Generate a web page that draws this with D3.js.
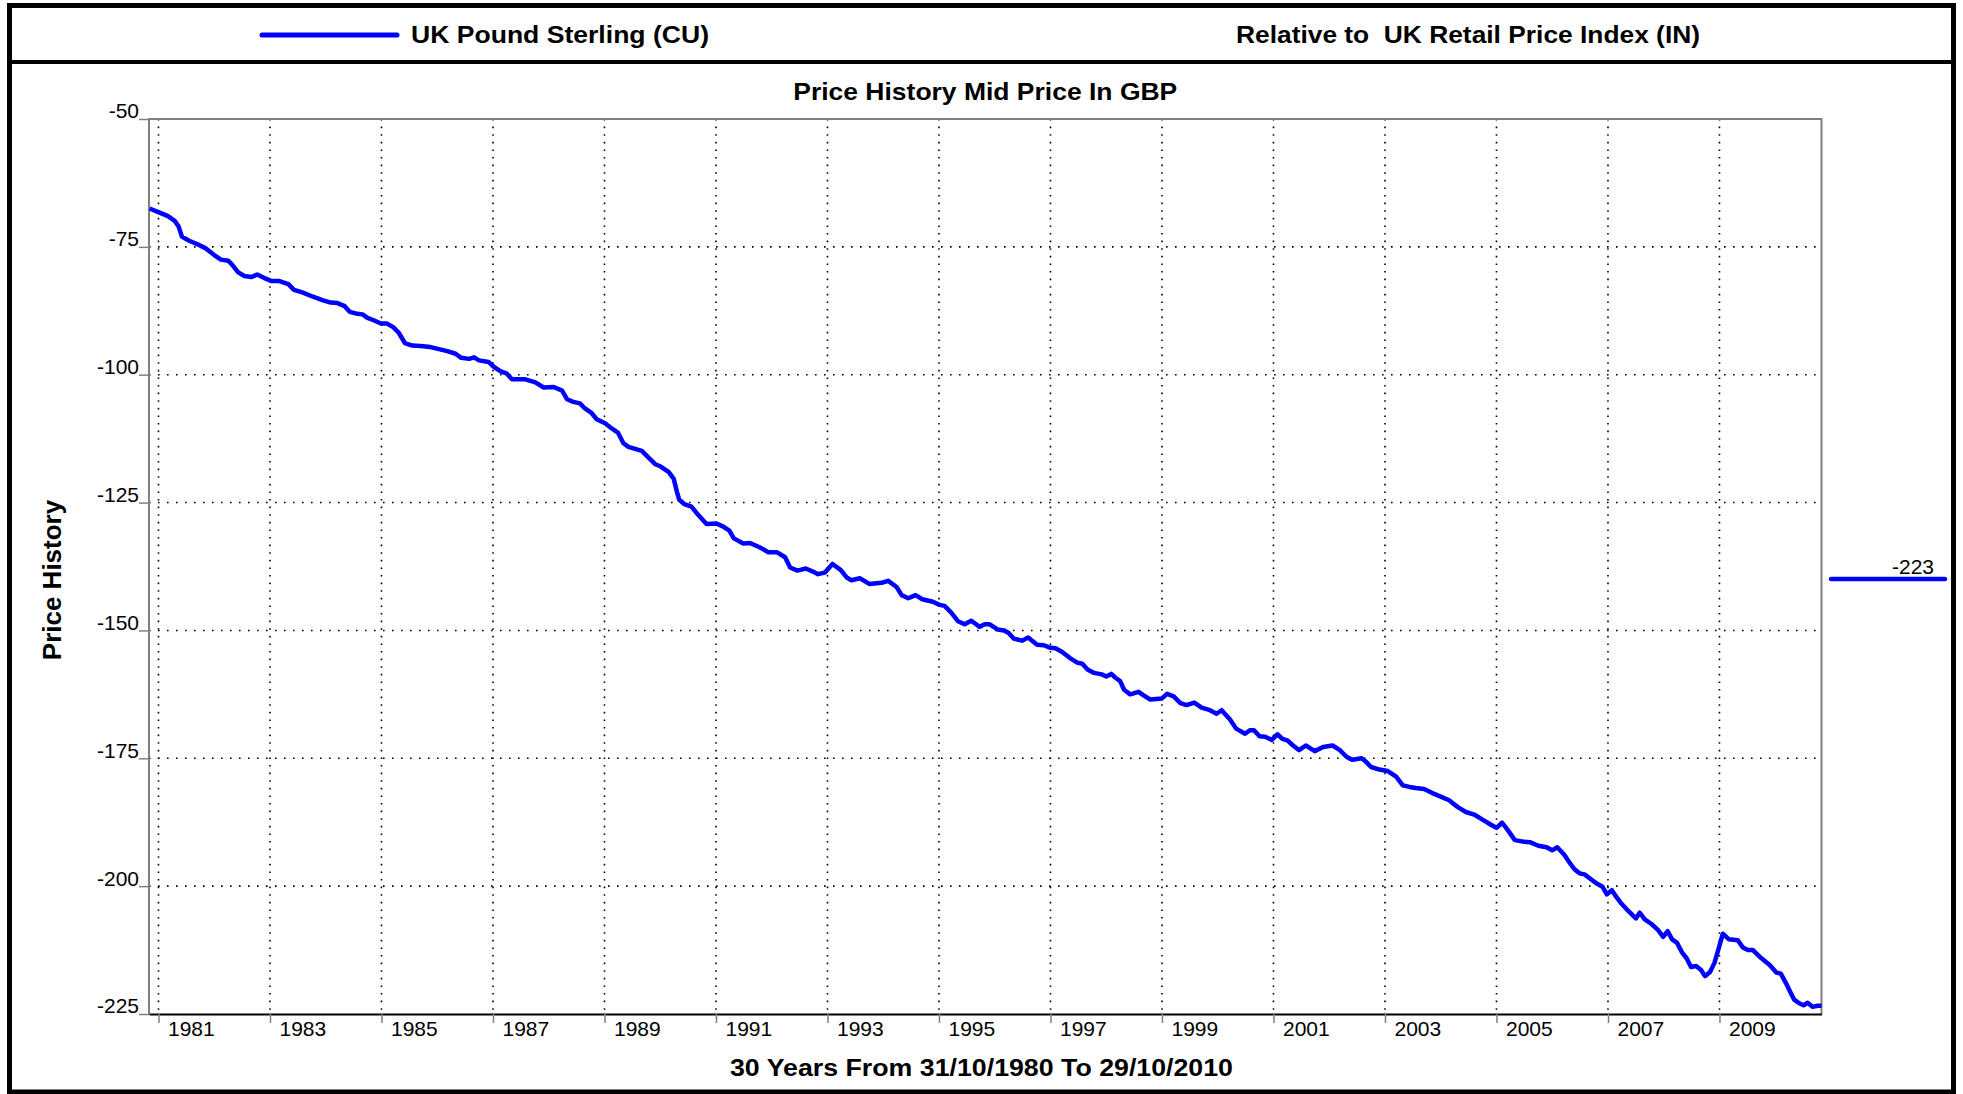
<!DOCTYPE html>
<html>
<head>
<meta charset="utf-8">
<title>Price History Mid Price In GBP</title>
<script src="https://cdn.jsdelivr.net/npm/d3@7"></script>
<style>
  body { margin: 0; background: #fff; }
  svg { display: block; font-family: "Liberation Sans", Arial, Helvetica, sans-serif; }
</style>
</head>
<body>
<svg id="chart" width="1963" height="1094"></svg>
<script>
// values (decimal years, price relative to RPI)
let years = [
  1980.84, 1981.02, 1981.17, 1981.29, 1981.36, 1981.42, 1981.55, 1981.70, 1981.85, 1982.00,
  1982.12, 1982.25, 1982.33, 1982.43, 1982.54, 1982.67, 1982.77, 1982.90, 1983.03, 1983.17,
  1983.33, 1983.43, 1983.58, 1983.76, 1983.94, 1984.09, 1984.21, 1984.34, 1984.43, 1984.57,
  1984.66, 1984.75, 1984.87, 1984.99, 1985.10, 1985.21, 1985.31, 1985.42, 1985.55, 1985.70,
  1985.88, 1986.03, 1986.18, 1986.33, 1986.43, 1986.57, 1986.66, 1986.75, 1986.92, 1987.01,
  1987.13, 1987.25, 1987.34, 1987.58, 1987.76, 1987.91, 1988.09, 1988.24, 1988.33, 1988.44,
  1988.56, 1988.65, 1988.76, 1988.86, 1989.01, 1989.13, 1989.24, 1989.34, 1989.43, 1989.55,
  1989.67, 1989.79, 1989.91, 1990.00, 1990.15, 1990.24, 1990.30, 1990.34, 1990.43, 1990.56,
  1990.68, 1990.83, 1991.01, 1991.13, 1991.24, 1991.32, 1991.49, 1991.61, 1991.79, 1991.94,
  1992.09, 1992.24, 1992.33, 1992.46, 1992.61, 1992.74, 1992.83, 1992.95, 1993.09, 1993.24,
  1993.34, 1993.43, 1993.58, 1993.75, 1993.97, 1994.09, 1994.24, 1994.33, 1994.45, 1994.58,
  1994.70, 1994.89, 1995.01, 1995.10, 1995.22, 1995.34, 1995.46, 1995.58, 1995.73, 1995.82,
  1995.91, 1996.05, 1996.17, 1996.25, 1996.34, 1996.49, 1996.60, 1996.76, 1996.88, 1997.00,
  1997.09, 1997.21, 1997.35, 1997.48, 1997.57, 1997.67, 1997.78, 1997.92, 1998.00, 1998.09,
  1998.16, 1998.25, 1998.32, 1998.43, 1998.58, 1998.67, 1998.79, 1999.00, 1999.09, 1999.21,
  1999.33, 1999.44, 1999.58, 1999.71, 1999.86, 1999.98, 2000.07, 2000.22, 2000.33, 2000.49,
  2000.58, 2000.65, 2000.75, 2000.85, 2000.97, 2001.07, 2001.16, 2001.25, 2001.35, 2001.46,
  2001.58, 2001.74, 2001.89, 2002.06, 2002.19, 2002.31, 2002.41, 2002.58, 2002.66, 2002.75,
  2002.90, 2003.05, 2003.20, 2003.32, 2003.44, 2003.55, 2003.70, 2003.85, 2004.00, 2004.15,
  2004.30, 2004.45, 2004.60, 2004.75, 2004.90, 2005.00, 2005.10, 2005.20, 2005.33, 2005.48,
  2005.60, 2005.75, 2005.90, 2006.00, 2006.09, 2006.22, 2006.31, 2006.40, 2006.49, 2006.58,
  2006.70, 2006.80, 2006.90, 2006.98, 2007.07, 2007.15, 2007.24, 2007.36, 2007.50, 2007.57,
  2007.66, 2007.78, 2007.90, 2007.99, 2008.07, 2008.15, 2008.24, 2008.33, 2008.41, 2008.49,
  2008.58, 2008.67, 2008.74, 2008.83, 2008.91, 2008.99, 2009.06, 2009.17, 2009.33, 2009.42,
  2009.51, 2009.60, 2009.72, 2009.90, 2010.02, 2010.10, 2010.19, 2010.27, 2010.34, 2010.43,
  2010.51, 2010.58, 2010.67, 2010.76, 2010.83
];
let prices = [
  -67.5, -68.3, -69.0, -69.9, -71.0, -73.0, -73.8, -74.5, -75.3, -76.6,
  -77.5, -77.7, -78.6, -80.0, -80.7, -80.9, -80.4, -81.1, -81.7, -81.7,
  -82.3, -83.4, -83.9, -84.7, -85.4, -85.9, -86.0, -86.6, -87.7, -88.1,
  -88.2, -88.9, -89.4, -90.0, -90.0, -90.7, -91.8, -93.8, -94.3, -94.4,
  -94.6, -95.0, -95.4, -95.9, -96.7, -96.9, -96.6, -97.2, -97.5, -98.4,
  -99.3, -99.8, -100.9, -100.9, -101.5, -102.5, -102.4, -103.1, -104.8, -105.3,
  -105.6, -106.6, -107.4, -108.7, -109.5, -110.5, -111.3, -113.4, -114.1, -114.5,
  -114.9, -116.2, -117.5, -117.9, -119.0, -120.3, -122.9, -124.4, -125.3, -125.8,
  -127.4, -129.2, -129.1, -129.7, -130.5, -132.0, -133.0, -132.9, -133.8, -134.7,
  -134.7, -135.7, -137.7, -138.3, -137.9, -138.5, -139.0, -138.7, -137.0, -138.2,
  -139.6, -140.2, -139.8, -140.9, -140.7, -140.3, -141.5, -143.1, -143.7, -143.1,
  -143.9, -144.4, -145.0, -145.2, -146.5, -148.2, -148.8, -148.1, -149.3, -148.8,
  -148.8, -149.8, -150.0, -150.5, -151.6, -152.0, -151.4, -152.8, -152.9, -153.4,
  -153.5, -154.2, -155.4, -156.3, -156.5, -157.7, -158.3, -158.6, -159.0, -158.5,
  -159.2, -159.9, -161.6, -162.5, -162.0, -162.7, -163.5, -163.3, -162.4, -162.9,
  -164.2, -164.6, -164.1, -165.1, -165.6, -166.3, -165.6, -167.4, -169.2, -170.2,
  -169.5, -169.5, -170.7, -170.8, -171.4, -170.3, -171.2, -171.5, -172.5, -173.4,
  -172.5, -173.6, -172.8, -172.5, -173.4, -174.7, -175.3, -175.0, -175.7, -176.7,
  -177.2, -177.5, -178.6, -180.3, -180.6, -180.8, -181.0, -181.8, -182.5, -183.2,
  -184.5, -185.5, -186.0, -187.0, -188.0, -188.6, -187.6, -189.0, -191.0, -191.3,
  -191.4, -192.1, -192.4, -193.0, -192.4, -193.9, -195.4, -196.7, -197.5, -197.7,
  -198.7, -199.5, -200.1, -201.6, -200.8, -202.1, -203.4, -204.8, -206.3, -205.2,
  -206.5, -207.4, -208.6, -209.9, -208.8, -210.4, -211.1, -213.0, -214.1, -215.8,
  -215.6, -216.4, -217.6, -216.8, -215.0, -212.0, -209.3, -210.4, -210.6, -212.0,
  -212.5, -212.5, -213.8, -215.4, -216.9, -217.1, -218.9, -220.7, -222.2, -222.9,
  -223.3, -222.8, -223.6, -223.4, -223.4
];
let yTicks = [-50, -75, -100, -125, -150, -175, -200, -225];
let xTicks = [1981, 1983, 1985, 1987, 1989, 1991, 1993, 1995, 1997, 1999, 2001, 2003, 2005, 2007, 2009];
let startYear = 1980.83;   // 31/10/1980
let endYear = 2010.83;     // 29/10/2010

let seriesName = "UK Pound Sterling (CU)";
let relativeTo = "Relative to  UK Retail Price Index (IN)";
let chartTitle = "Price History Mid Price In GBP";
let yTitle = "Price History";
let xTitle = "30 Years From 31/10/1980 To 29/10/2010";

let svg = d3.select("#chart");
let pLeft = 149, pRight = 1821.5, pTop = 119, pBottom = 1014;
let blue = "#0000ff", grey = "#808080";

let x = d3.scaleLinear().domain([startYear, endYear]).range([pLeft, pRight]);
let y = d3.scaleLinear().domain([-225, -50]).range([pBottom, pTop]);

// outer frame + header band
svg.append("rect")
   .attr("x", 9.5).attr("y", 5.5)
   .attr("width", 1944).attr("height", 1086.5)
   .attr("fill", "none").attr("stroke", "#000").attr("stroke-width", 5);
svg.append("line")
   .attr("x1", 7).attr("x2", 1956).attr("y1", 62).attr("y2", 62)
   .attr("stroke", "#000").attr("stroke-width", 4);

// legend in header
svg.append("line")
   .attr("x1", 262).attr("x2", 397).attr("y1", 35).attr("y2", 35)
   .attr("stroke", blue).attr("stroke-width", 5).attr("stroke-linecap", "round");
svg.append("text")
   .attr("x", 411).attr("y", 43)
   .attr("textLength", 298).attr("lengthAdjust", "spacingAndGlyphs")
   .style("font-size", "24px").style("font-weight", "bold")
   .text(seriesName);
svg.append("text")
   .attr("x", 1236).attr("y", 43)
   .attr("textLength", 464).attr("lengthAdjust", "spacingAndGlyphs")
   .style("font-size", "24px").style("font-weight", "bold")
   .style("white-space", "pre")
   .text(relativeTo);

// title
svg.append("text")
   .attr("x", (pLeft + pRight) / 2).attr("y", 100)
   .attr("text-anchor", "middle")
   .attr("textLength", 384).attr("lengthAdjust", "spacingAndGlyphs")
   .style("font-size", "24px").style("font-weight", "bold")
   .text(chartTitle);

// dotted grid
svg.append("g").selectAll("line")
   .data(yTicks.slice(1, -1))
   .enter().append("line")
   .attr("x1", pLeft).attr("x2", pRight)
   .attr("y1", d => y(d)).attr("y2", d => y(d))
   .attr("stroke", "#000").attr("stroke-width", 1.6)
   .attr("stroke-dasharray", "1.6,7.4");
svg.append("g").selectAll("line")
   .data(xTicks)
   .enter().append("line")
   .attr("x1", d => x(d)).attr("x2", d => x(d))
   .attr("y1", pTop).attr("y2", pBottom)
   .attr("stroke", "#000").attr("stroke-width", 1.6)
   .attr("stroke-dasharray", "1.6,6");

// plot box
svg.append("path")
   .attr("d", `M${pLeft},${pBottom}V${pTop}H${pRight}V${pBottom}`)
   .attr("fill", "none").attr("stroke", grey).attr("stroke-width", 2);

// y axis
let yAxis = svg.append("g")
   .attr("transform", `translate(${pLeft},0)`)
   .call(d3.axisLeft(y).tickValues(yTicks).tickSize(10).tickSizeOuter(0).tickPadding(0)
           .tickFormat(d => String(d)));
yAxis.select(".domain").remove();
yAxis.selectAll("line").attr("stroke", grey).attr("stroke-width", 1.5);
yAxis.selectAll("text")
     .attr("x", -10).attr("dy", "-0.05em")
     .attr("fill", "#000")
     .style("font-size", "21px");
yAxis.attr("font-family", null);

// x axis
let xAxis = svg.append("g")
   .attr("transform", `translate(0,${pBottom})`)
   .call(d3.axisBottom(x).tickValues(xTicks).tickSize(9).tickSizeOuter(0)
           .tickFormat(d => String(d)));
xAxis.select(".domain").attr("stroke", "#000").attr("stroke-width", 2);
xAxis.selectAll("line").attr("stroke", grey).attr("stroke-width", 1.5);
xAxis.selectAll("text")
     .attr("x", 9).attr("y", 22).attr("dy", 0)
     .attr("text-anchor", "start").attr("fill", "#000")
     .style("font-size", "21px");
xAxis.attr("font-family", null);

// the series
let line = d3.line()
   .x((d, i) => x(years[i]))
   .y(d => y(d));
svg.append("path")
   .datum(prices)
   .attr("d", line)
   .attr("fill", "none")
   .attr("stroke", blue)
   .attr("stroke-width", 4.5)
   .attr("stroke-linejoin", "round");

// axis titles
svg.append("text")
   .attr("transform", "translate(61,580) rotate(-90)")
   .attr("text-anchor", "middle")
   .style("font-size", "26px").style("font-weight", "bold")
   .text(yTitle);
svg.append("text")
   .attr("x", 981.5).attr("y", 1076)
   .attr("text-anchor", "middle")
   .attr("textLength", 503).attr("lengthAdjust", "spacingAndGlyphs")
   .style("font-size", "24px").style("font-weight", "bold")
   .text(xTitle);

// last value marker on the right
let lastValue = Math.round(prices[prices.length - 1]);
svg.append("line")
   .attr("x1", 1831).attr("x2", 1945).attr("y1", 579).attr("y2", 579)
   .attr("stroke", blue).attr("stroke-width", 4.5).attr("stroke-linecap", "round");
svg.append("text")
   .attr("x", 1934).attr("y", 574)
   .attr("text-anchor", "end")
   .style("font-size", "21px")
   .text(String(lastValue));
</script>
</body>
</html>
